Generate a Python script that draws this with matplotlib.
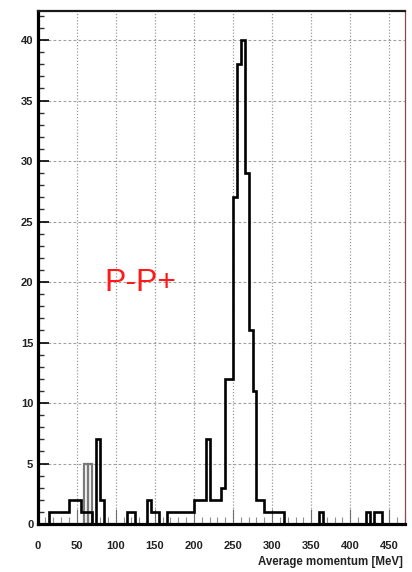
#!/usr/bin/env python3
"""Average momentum histogram, ROOT-style frame."""

import numpy as np
import matplotlib.pyplot as plt
from matplotlib.ticker import MultipleLocator

# 5 MeV bins from 0 to 470 MeV
bin_width = 5
x_max = 470

# lower bin edge (MeV) -> entries, main sample
black_bins = [15, 20, 25, 30, 35, 40, 45, 50, 55, 60, 65, 75, 80,
              115, 120, 140, 145, 150, 165, 170, 175, 180, 185, 190, 195,
              200, 205, 210, 215, 220, 225, 230, 235, 240, 245, 250, 255,
              260, 265, 270, 275, 280, 285, 290, 295, 300, 305, 310,
              360, 420, 430, 435]
black_counts = [1, 1, 1, 1, 1, 2, 2, 2, 1, 1, 1, 7, 2,
                1, 1, 2, 1, 1, 1, 1, 1, 1, 1, 1, 1,
                2, 2, 2, 7, 2, 2, 2, 3, 12, 12, 27, 38,
                40, 29, 16, 11, 2, 2, 1, 1, 1, 1, 1,
                1, 1, 1, 1]

# second (grey) sample
gray_bins = [60, 65]
gray_counts = [5, 5]

label_text = "P-P+"
x_title = "Average momentum [MeV]"


def fill_bins(bins, counts):
    edges = np.arange(0, x_max + bin_width, bin_width)
    h = np.zeros(len(edges) - 1)
    for b, c in zip(bins, counts):
        h[b // bin_width] = c
    return h, edges


def main():
    plt.rcParams['font.family'] = ['Liberation Sans', 'DejaVu Sans']

    fig = plt.figure(figsize=(4.12, 5.72), dpi=100)
    ax = fig.add_axes([37.5 / 412, 48 / 572, 367.5 / 412, 513 / 572])

    h_black, edges = fill_bins(black_bins, black_counts)

    # grid
    for xv in range(50, 451, 50):
        ax.axvline(xv, color='#9a9a9a', lw=0.9, ls=(0, (1, 1.5)), zorder=0)
    for yv in range(5, 41, 5):
        ax.axhline(yv, color='#a0a0a0', lw=0.8, ls=(0, (2.5, 2)), zorder=0)

    ax.bar(gray_bins, gray_counts, width=bin_width, align='edge', fill=False,
           edgecolor='#7a7a7a', lw=1.6, zorder=2)
    ax.stairs(h_black, edges, color='black', lw=1.9, zorder=3)

    ax.set_xlim(0, x_max)
    ax.set_ylim(0, 42.4)

    ax.xaxis.set_major_locator(MultipleLocator(50))
    ax.xaxis.set_minor_locator(MultipleLocator(10))
    ax.yaxis.set_major_locator(MultipleLocator(5))
    ax.yaxis.set_minor_locator(MultipleLocator(1))

    ax.tick_params(axis='x', which='major', direction='in', length=10.8,
                   width=0.8, color='#707070', pad=12, labelsize=8)
    ax.tick_params(axis='x', which='minor', direction='in', length=5.4,
                   width=0.8, color='#909090')
    ax.tick_params(axis='y', which='major', direction='in', length=8,
                   width=1.2, color='black', pad=3, labelsize=8)
    ax.tick_params(axis='y', which='minor', direction='in', length=4,
                   width=1.0, color='#303030')
    for lab in ax.get_xticklabels() + ax.get_yticklabels():
        lab.set_fontweight('bold')
        lab.set_color('#222222')

    ax.spines['left'].set_linewidth(2.3)
    ax.spines['bottom'].set_linewidth(2.3)
    ax.spines['top'].set_linewidth(1.6)
    ax.spines['top'].set_color('#1a1a1a')
    ax.spines['right'].set_linewidth(0.9)
    ax.spines['right'].set_color('#8a4a4a')

    ax.text(131, 19.9, label_text, color='#ff1a1a', fontsize=23,
            ha='center', va='center', zorder=4)

    fig.text(403 / 412, 1 - 562 / 572, x_title, ha='right', va='center',
             fontsize=8.3, fontweight='bold', color='#222222')

    fig.savefig('out.png', dpi=100)
    plt.close(fig)


if __name__ == "__main__":
    main()
